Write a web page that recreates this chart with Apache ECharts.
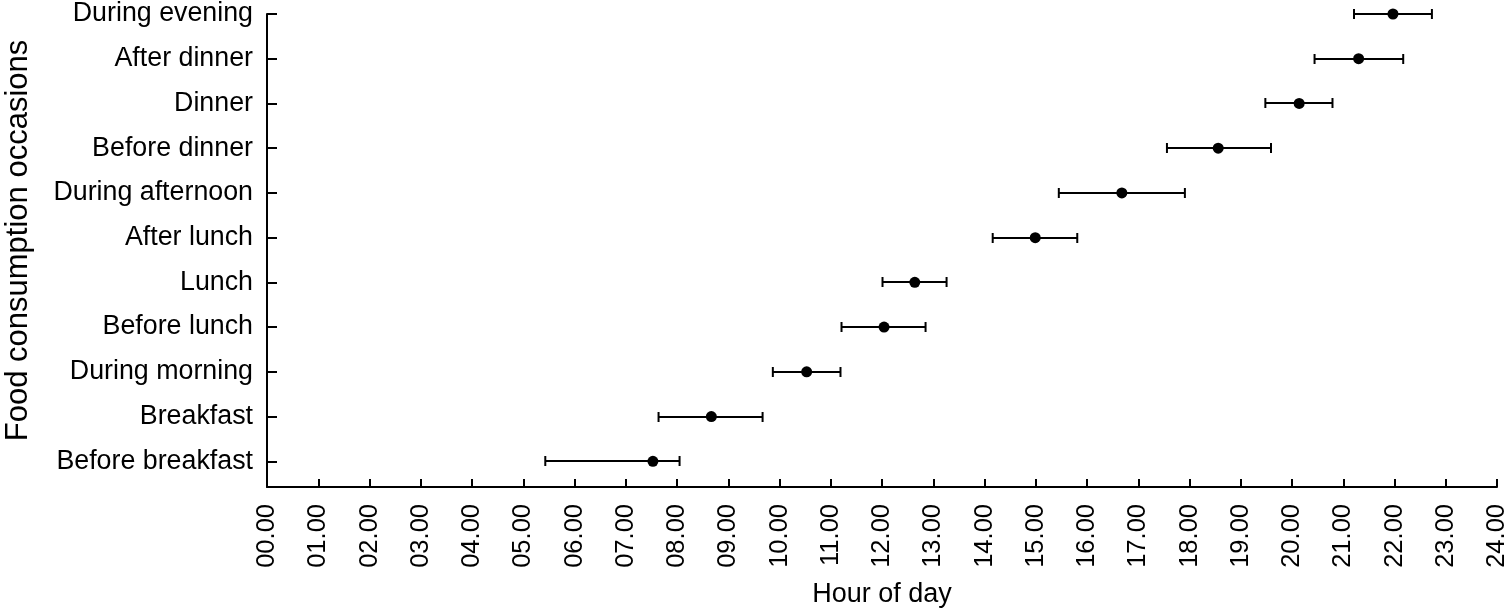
<!DOCTYPE html>
<html>
<head>
<meta charset="utf-8">
<script src="https://cdn.jsdelivr.net/npm/echarts@6/dist/echarts.min.js"></script>
<style>html,body{margin:0;padding:0;background:#fff}#c{width:1508px;height:611px}</style>
</head>
<body>
<div id="c"></div>
<script>
const categories = ['Before breakfast','Breakfast','During morning','Before lunch','Lunch','After lunch','During afternoon','Before dinner','Dinner','After dinner','During evening'];
const means = [7.53, 8.67, 10.53, 12.04, 12.64, 14.99, 16.68, 18.56, 20.14, 21.30, 21.97];
const lows  = [5.43, 7.64, 9.87, 11.21, 12.01, 14.16, 15.45, 17.56, 19.48, 20.44, 21.21];
const highs = [8.05, 9.67, 11.19, 12.85, 13.26, 15.81, 17.91, 19.59, 20.79, 22.17, 22.73];
const positions = categories.map((c, i) => i + 1);

const FONT = "'Liberation Sans', Arial, sans-serif";
const chart = echarts.init(document.getElementById('c'));
chart.setOption({
  animation: false,
  backgroundColor: '#fff',
  grid: { left: 267, right: 11, top: 14, bottom: 124, containLabel: false, outerBoundsMode: 'none' },
  xAxis: {
    type: 'value', min: 0, max: 24, interval: 1,
    name: 'Hour of day', nameLocation: 'middle', nameGap: 94,
    nameTextStyle: { fontFamily: FONT, fontSize: 27, color: '#000' },
    axisLine: { show: true, lineStyle: { color: '#000', width: 2 } },
    axisTick: { show: true, inside: true, length: 8, lineStyle: { color: '#000', width: 2 } },
    splitLine: { show: false },
    axisLabel: {
      rotate: 90, margin: 17, fontFamily: FONT, fontSize: 25.5, color: '#000',
      formatter: v => String(v).padStart(2, '0') + '.00'
    }
  },
  yAxis: {
    type: 'value', min: 0.425, max: 11,
    name: 'Food consumption occasions', nameLocation: 'middle', nameGap: 233, nameRotate: 90,
    nameTextStyle: { fontFamily: FONT, fontSize: 31, color: '#000', padding: [0, 0, 0, 20] },
    axisLine: { show: true, lineStyle: { color: '#000', width: 2 } },
    axisTick: { show: true, inside: true, length: 10, customValues: positions, lineStyle: { color: '#000', width: 2 } },
    splitLine: { show: false },
    axisLabel: {
      margin: 14, fontFamily: FONT, fontSize: 26.8, color: '#000',
      customValues: positions,
      formatter: v => categories[Math.round(v) - 1] || ''
    }
  },
  series: [
    {
      type: 'custom',
      data: categories.map((c, i) => [lows[i], highs[i], positions[i]]),
      renderItem: function (params, api) {
        const y = api.value(2);
        const p1 = api.coord([api.value(0), y]);
        const p2 = api.coord([api.value(1), y]);
        const yy = Math.round(p1[1]);
        const h = 5;
        const style = { stroke: '#000', lineWidth: 2 };
        return {
          type: 'group',
          children: [
            { type: 'line', shape: { x1: p1[0], y1: yy, x2: p2[0], y2: yy }, style },
            { type: 'line', shape: { x1: p1[0], y1: yy - h, x2: p1[0], y2: yy + h }, style },
            { type: 'line', shape: { x1: p2[0], y1: yy - h, x2: p2[0], y2: yy + h }, style }
          ]
        };
      },
      z: 2
    },
    {
      type: 'scatter',
      data: categories.map((c, i) => [means[i], positions[i]]),
      symbol: 'circle', symbolSize: 11,
      itemStyle: { color: '#000', opacity: 1 },
      z: 3
    }
  ]
});
</script>
</body>
</html>
